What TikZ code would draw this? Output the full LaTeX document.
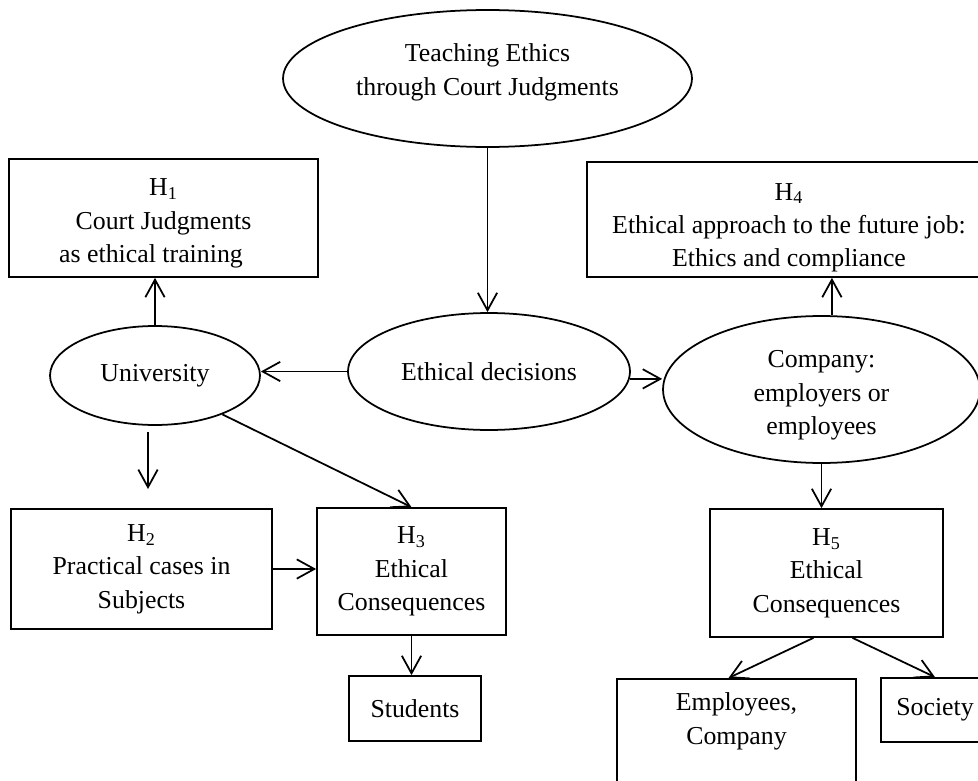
\documentclass[tikz,border=0pt]{standalone}
\usepackage{fontspec}
\setmainfont{Liberation Serif}
\usetikzlibrary{shapes.geometric,arrows.meta}

\begin{document}
\begin{tikzpicture}[x=0.02cm, y=-0.02cm, line width=1pt,
    font=\fontsize{14.7}{19}\selectfont,
    oval/.style={draw, ellipse, inner sep=0pt, align=center},
    hbox/.style={draw, rectangle, inner sep=2pt, align=center},
    arr/.style={-{Straight Barb[length=10pt, width=11pt]}}]
    \useasboundingbox (0,0) rectangle (978,781);
    \clip (0,0) rectangle (978,781);

    % Top
    \node[oval, minimum width=8.18cm, minimum height=2.74cm, text depth=10pt] (teach) at (487.5,78.5)
      {Teaching Ethics\\through Court Judgments};
    \node[oval, minimum width=5.64cm, minimum height=2.34cm] (dec) at (489,371.5) {Ethical decisions};

    % University side
    \node[hbox, minimum width=6.18cm, minimum height=2.36cm, text height=54pt] (h1) at (163.5,218)
      {H\textsubscript{1}\\Court Judgments\\as ethical training\hspace*{0.5cm}};
    \node[oval, minimum width=4.2cm, minimum height=1.98cm] (univ) at (155,375.5) {University};
    \node[hbox, minimum width=5.22cm, minimum height=2.4cm] (h2) at (141.5,569)
      {H\textsubscript{2}\\Practical cases in\\Subjects};
    \node[hbox, minimum width=3.78cm, minimum height=2.54cm] (h3) at (411.5,571.5)
      {H\textsubscript{3}\\Ethical\\Consequences};
    \node[hbox, minimum width=2.64cm, minimum height=1.3cm] (stud) at (415,708.5) {Students};

    % Company side
    \node[hbox, minimum width=8.08cm, minimum height=2.3cm, text height=57pt] (h4) at (789,219.5)
      {H\textsubscript{4}\\Ethical approach to the future job:\\Ethics and compliance};
    \node[oval, minimum width=6.34cm, minimum height=2.94cm, text height=54.5pt] (comp) at (821.5,389.5)
      {Company:\\employers or\\employees};
    \node[hbox, minimum width=4.66cm, minimum height=2.56cm] (h5) at (826.5,573)
      {H\textsubscript{5}\\Ethical\\Consequences};
    \node[hbox, minimum width=4.78cm, anchor=north, text depth=1.6cm, inner sep=8pt] (emp) at (736.5,678)
      {Employees,\\Company};
    \node[hbox, minimum width=2.16cm, minimum height=1.28cm] (soc) at (935,710) {Society};

    \coordinate (h2tip) at (148,489);

    % Arrows
    \draw[arr] (teach.south) -- (teach.south |- dec.north);
    \draw[arr] (dec.west) -- (dec.west -| univ.east);
    \draw[arr] (dec.-3.5) -- (dec.-3.5 -| comp.west);
    \draw[arr] (univ.north) -- (univ.north |- h1.south);
    \draw[arr] ([shift={(-7,6)}]univ.south) -- (h2tip);
    \draw[arr] (univ.-30.5) -- (h3.north);
    \draw[arr] (h2.east) -- (h2.east -| h3.west);
    \draw[arr] (h3.south) -- (h3.south |- stud.north);
    \draw[arr] (comp.82) -- (comp.82 |- h4.south);
    \draw[arr] (comp.south) -- (comp.south |- h5.north);
    \draw[arr] ([shift={(-13,0)}]h5.south) -- ([shift={(-8,0)}]emp.north);
    \draw[arr] ([shift={(26,0)}]h5.south) -- (soc.north);
\end{tikzpicture}
\end{document}
